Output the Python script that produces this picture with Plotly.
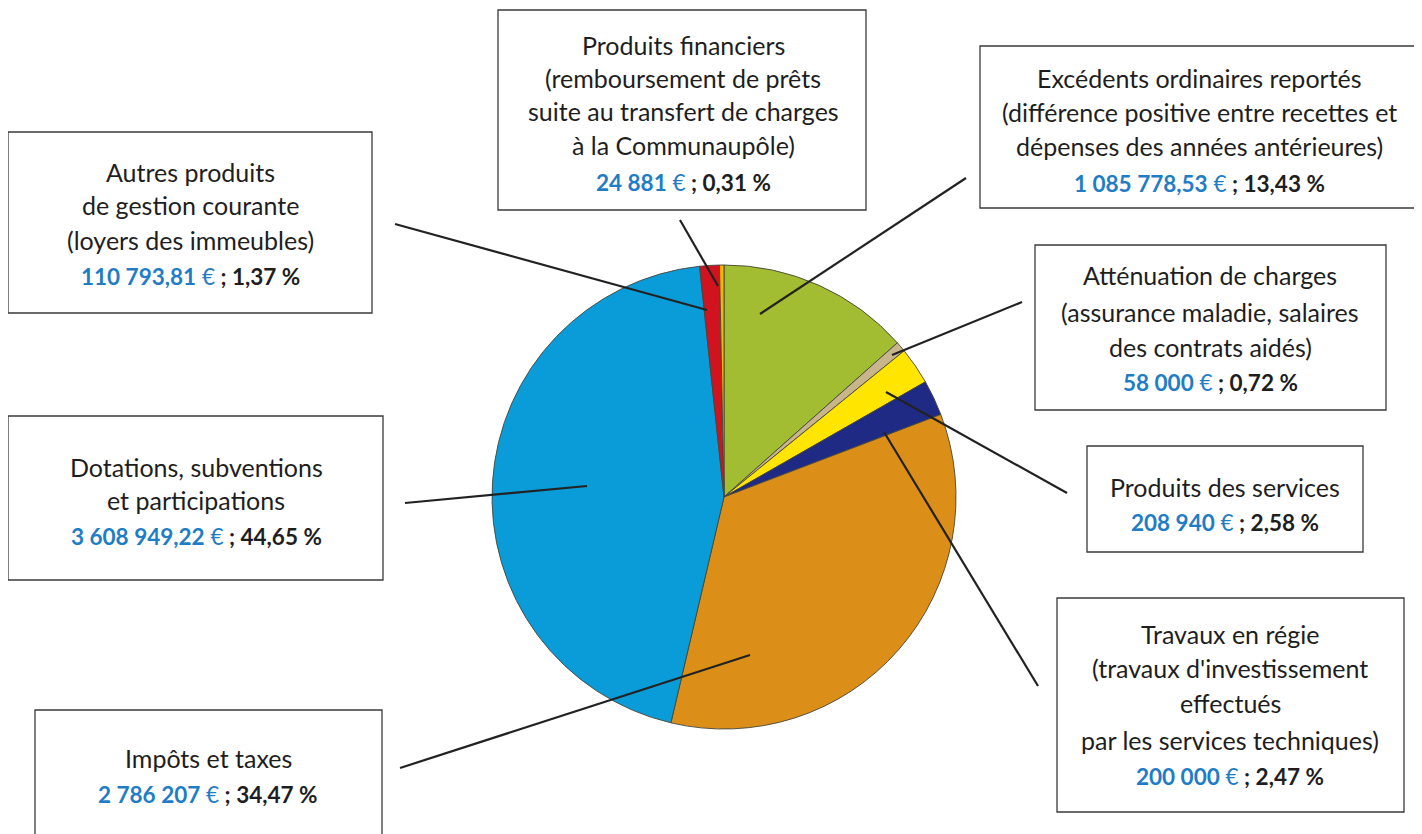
import plotly.graph_objects as go

W, H = 1422, 834
OFF = 8  # page body margin: figure origin lands at (8, 8) on the screen

categories = ["Excédents ordinaires reportés", "Atténuation de charges", "Produits des services",
              "Travaux en régie", "Impôts et taxes", "Dotations, subventions et participations",
              "Autres produits de gestion courante", "Produits financiers"]
values = [1085778.53, 58000, 208940, 200000, 2786207, 3608949.22, 110793.81, 24881]
percents = [13.43, 0.72, 2.58, 2.47, 34.47, 44.65, 1.37, 0.31]
colors = ["#a3bd32", "#c9b58c", "#ffe500", "#1f2a85", "#dc8f18", "#0a9cd8", "#d1121f", "#f4b400"]

title_lines = [
    ["Excédents ordinaires reportés", "(différence positive entre recettes et", "dépenses des années antérieures)"],
    ["Atténuation de charges", "(assurance maladie, salaires", "des contrats aidés)"],
    ["Produits des services"],
    ["Travaux en régie", "(travaux d'investissement", "effectués", "par les services techniques)"],
    ["Impôts et taxes"],
    ["Dotations, subventions", "et participations"],
    ["Autres produits", "de gestion courante", "(loyers des immeubles)"],
    ["Produits financiers", "(remboursement de prêts", "suite au transfert de charges", "à la Communaupôle)"],
]

# layout (screen pixels): box rectangles, text centre x, text line y's, leader lines
boxes = [(980, 46, 1418, 208), (1035, 245, 1386, 410), (1087, 446, 1363, 552), (1057, 598, 1404, 812),
         (35, 710, 382, 845), (8, 416, 383, 580), (8, 132, 372, 313), (498, 10, 866, 210)]
text_x = [1199, 1210, 1225, 1230, 208, 196, 190, 683]
text_y = [[78, 112, 146, 183], [275, 312, 347, 382], [487, 522], [634, 668, 703, 740, 776],
          [758, 794], [467, 500, 536], [172, 205, 240, 276], [45, 78, 111, 145, 182]]
leaders = [((966, 178), (760, 314)), ((1022, 302), (892, 355)), ((1067, 493), (886, 392)),
           ((1038, 686), (884, 432)), ((400, 768), (750, 655)), ((405, 503), (587, 486)),
           ((395, 224), (707, 310)), ((680, 220), (718, 286))]


def fmt_eur(v):
    if abs(v - round(v)) < 1e-9:
        s = f"{int(round(v)):,}".replace(",", " ")
    else:
        s = f"{v:,.2f}".replace(",", " ").replace(".", ",")
    return s


cx, cy, r = 724, 497, 232
fig = go.Figure()
fig.add_trace(go.Pie(
    labels=categories, values=values, sort=False, direction="clockwise", rotation=0,
    marker=dict(colors=colors, line=dict(color="#45453a", width=0.9)),
    textinfo="none", hoverinfo="label+percent", showlegend=False,
    domain=dict(x=[(cx - r - OFF) / W, (cx + r - OFF) / W],
                y=[1 - (cy + r - OFF) / H, 1 - (cy - r - OFF) / H]),
))

shapes = []
annotations = []
font_name = "Lato"
for i in range(len(categories)):
    x0, y0, x1, y1 = boxes[i]
    shapes.append(dict(type="rect", xref="x", yref="y", x0=x0, y0=y0, x1=x1, y1=y1,
                       line=dict(color="#3a3a3a", width=1.3), fillcolor="white", layer="below"))
    (lx0, ly0), (lx1, ly1) = leaders[i]
    shapes.append(dict(type="line", xref="x", yref="y", x0=lx0, y0=ly0, x1=lx1, y1=ly1,
                       line=dict(color="#222222", width=2.2), layer="above"))
    lines = list(title_lines[i])
    pct = f"{percents[i]:.2f}".replace(".", ",")
    value_line = f'<span style="color:#1f7dc6"><b>{fmt_eur(values[i])}</b> €</span><b> ; {pct} %</b>'
    n = len(lines)
    lines.append(value_line)
    for k, (t, yy) in enumerate(zip(lines, text_y[i])):
        size = 22.5 if k == n else 25
        annotations.append(dict(x=text_x[i], y=yy, xref="x", yref="y", text=t, showarrow=False,
                                xanchor="center", yanchor="middle",
                                font=dict(family=font_name, size=size, color="#1e1e1e")))

fig.update_layout(
    width=W, height=H, margin=dict(l=0, r=0, t=0, b=0),
    paper_bgcolor="white", plot_bgcolor="rgba(0,0,0,0)",
    xaxis=dict(range=[OFF, W + OFF], visible=False, fixedrange=True, domain=[0, 1]),
    yaxis=dict(range=[H + OFF, OFF], visible=False, fixedrange=True, domain=[0, 1]),
    shapes=shapes, annotations=annotations,
)
fig.write_html("out.html")
